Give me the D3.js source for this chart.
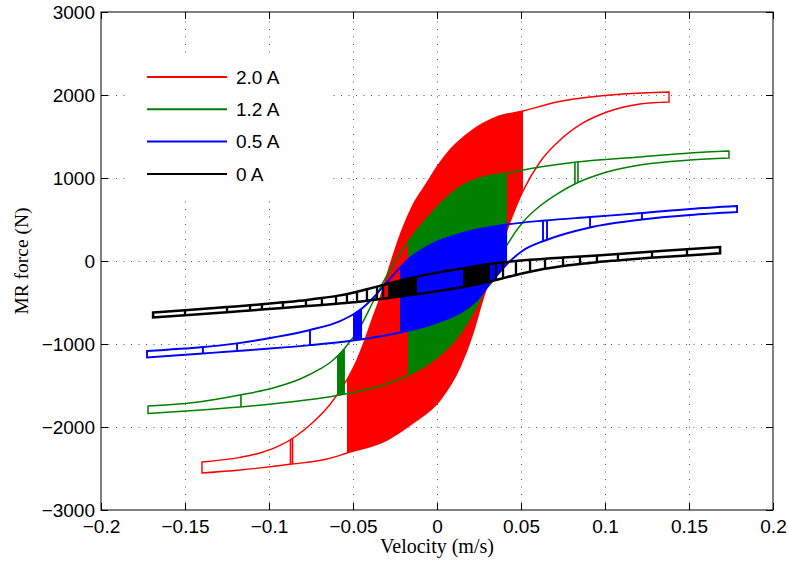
<!DOCTYPE html>
<html>
<head>
<meta charset="utf-8">
<script src="https://cdn.jsdelivr.net/npm/d3@7/dist/d3.min.js"></script>
<style>
  html, body { margin: 0; padding: 0; background: #fff; }
  svg { display: block; }
  .tick text { font-family: "Liberation Sans", Arial, Helvetica, sans-serif; font-size: 19px; fill: #000; }
</style>
</head>
<body>
<svg id="chart" width="788" height="562"></svg>
<script>
// ---- data: MR damper force vs. velocity hysteresis at four coil currents ----
const currents = ["2.0 A", "1.2 A", "0.5 A", "0 A"];

// branches as [velocity (m/s), force (N)], left tip -> right tip
const upper20 = [[-0.1399,-2422],[-0.1173,-2366],[-0.1054,-2313],[-0.0935,-2222],[-0.0845,-2117],[-0.0738,-1943],
  [-0.0637,-1729],[-0.0536,-1430],[-0.0476,-1193],[-0.0429,-952],[-0.0387,-711],[-0.0339,-446],[-0.0292,-133],
  [-0.0250,133],[-0.0208,373],[-0.0143,675],[-0.0060,940],[0.0000,1133],[0.0077,1337],[0.0196,1554],[0.0357,1735],
  [0.0512,1807],[0.0714,1916],[0.0911,1976],[0.1107,2012],[0.1381,2036]];
const lower20 = [[-0.1399,-2554],[-0.1173,-2518],[-0.0863,-2446],[-0.0655,-2386],[-0.0536,-2313],[-0.0298,-2157],
  [-0.0143,-1952],[0.0018,-1675],[0.0137,-1277],[0.0214,-867],[0.0268,-494],[0.0327,-133],[0.0387,205],
  [0.0446,530],[0.0512,843],[0.0613,1193],[0.0714,1422],[0.0869,1663],[0.1012,1795],[0.1208,1892],[0.1381,1916]];

const upper12 = [[-0.1720,-1747],[-0.1470,-1711],[-0.1173,-1614],[-0.0976,-1530],[-0.0815,-1422],[-0.0696,-1301],
  [-0.0625,-1205],[-0.0548,-1048],[-0.0458,-795],[-0.0381,-494],[-0.0304,-193],[-0.0238,36],[-0.0173,229],
  [-0.0119,373],[-0.0042,554],[0.0018,687],[0.0119,867],[0.0256,1000],[0.0417,1060],[0.0613,1133],
  [0.0833,1193],[0.1208,1253],[0.1506,1301],[0.1738,1325]];
const lower12 = [[-0.1720,-1837],[-0.1470,-1805],[-0.1173,-1759],[-0.0875,-1699],[-0.0595,-1620],[-0.0339,-1506],
  [-0.0179,-1386],[0.0000,-1163],[0.0137,-880],[0.0238,-542],[0.0298,-289],[0.0357,-36],[0.0417,193],
  [0.0512,470],[0.0613,663],[0.0714,807],[0.0833,940],[0.1012,1072],[0.1208,1157],[0.1506,1217],[0.1738,1241]];

const upper05 = [[-0.1726,-1084],[-0.1393,-1036],[-0.1190,-992],[-0.0976,-922],[-0.0756,-831],[-0.0577,-723],
  [-0.0500,-645],[-0.0440,-560],[-0.0381,-446],[-0.0292,-241],[-0.0238,-120],[-0.0161,36],[-0.0042,193],
  [0.0155,337],[0.0417,440],[0.0643,488],[0.0911,530],[0.1220,578],[0.1506,627],[0.1786,663]];
const lower05 = [[-0.1726,-1163],[-0.1393,-1114],[-0.1190,-1084],[-0.0976,-1052],[-0.0756,-1014],[-0.0500,-958],
  [-0.0220,-861],[0.0000,-741],[0.0155,-602],[0.0238,-470],[0.0315,-277],[0.0417,-36],[0.0512,127],
  [0.0643,247],[0.0911,404],[0.1220,500],[0.1506,554],[0.1786,590]];

const upper00 = [[-0.1690,-620],[-0.1500,-594],[-0.1250,-555],[-0.1113,-534],[-0.0917,-498],[-0.0774,-469],
  [-0.0685,-447],[-0.0595,-420],[-0.0500,-382],[-0.0411,-337],[-0.0321,-289],[-0.0143,-199],[0.0018,-134],
  [0.0155,-87],[0.0357,-25],[0.0554,14],[0.0750,42],[0.0952,66],[0.1268,111],[0.1488,141],[0.1685,169]];
const lower00 = [[-0.1690,-681],[-0.1500,-653],[-0.1250,-617],[-0.1113,-596],[-0.0917,-566],[-0.0774,-543],
  [-0.0595,-514],[-0.0500,-498],[-0.0411,-477],[-0.0321,-454],[-0.0143,-404],[0.0018,-358],[0.0155,-313],
  [0.0315,-248],[0.0393,-207],[0.0476,-165],[0.0554,-130],[0.0643,-94],[0.0750,-61],[0.0851,-37],[0.0952,-14],
  [0.1071,7],[0.1268,39],[0.1488,67],[0.1685,92]];

// velocity bands densely swept by the response (appear solid)
const bands20 = [[-0.0536, 0.0512]];
const bands12 = [[-0.0595, -0.0548], [-0.0173, 0.0417]];
const bands05 = [[-0.0500, -0.0446], [-0.0220, 0.0417]];
const bands00 = [[-0.0292, -0.0119], [0.0155, 0.0315]];

// velocities of the isolated reversal strokes between branches
const strokes20 = [-0.0872, -0.0860];
const strokes12 = [-0.1167, 0.0821, 0.0839];
const strokes05 = [-0.1393, -0.1190, -0.0756, 0.0631, 0.0655, 0.0911, 0.1220];
const strokes00 = [-0.1500, -0.1250, -0.1113, -0.1042, -0.0917, -0.0780, -0.0685, -0.0601, -0.0536, -0.0476,
  -0.0417, -0.0357, -0.0321, 0.0351, 0.0393, 0.0470, 0.0554, 0.0643, 0.0750, 0.0851, 0.0952, 0.1077, 0.1280, 0.1488];

const xTicks = [-0.2, -0.15, -0.1, -0.05, 0, 0.05, 0.1, 0.15, 0.2];
const yTicks = [-3000, -2000, -1000, 0, 1000, 2000, 3000];

// ---- styling ----
const colors = ["#ff0000", "#008000", "#0000ff", "#000000"];
const lineWidths = [1.4, 1.5, 1.9, 2.5];
const strokeWidths = [1.6, 1.6, 1.9, 2.3];

const series = currents.map((label, i) => ({
  label,
  color: colors[i],
  lw: lineWidths[i],
  sw: strokeWidths[i],
  upper: [upper20, upper12, upper05, upper00][i],
  lower: [lower20, lower12, lower05, lower00][i],
  bands: [bands20, bands12, bands05, bands00][i],
  strokes: [strokes20, strokes12, strokes05, strokes00][i]
}));

const svg = d3.select("#chart");
const x = d3.scaleLinear().domain([-0.2, 0.2]).range([101, 773]);
const y = d3.scaleLinear().domain([-3000, 3000]).range([510, 12]);
const [x0, x1] = x.range();
const [y0, y1] = y.range();

svg.append("rect").attr("width", 788).attr("height", 562).attr("fill", "#fff");

// dotted grid
const grid = svg.append("g").attr("stroke", "#555").attr("stroke-width", 1)
  .attr("stroke-dasharray", "1,6.5").attr("fill", "none");
grid.selectAll(".gx").data(xTicks.slice(1, -1)).join("line")
  .attr("x1", d => Math.round(x(d)) + 0.5).attr("x2", d => Math.round(x(d)) + 0.5)
  .attr("y1", y0).attr("y2", y1);
grid.selectAll(".gy").data(yTicks.slice(1, -1)).join("line")
  .attr("y1", d => Math.round(y(d)) + 0.5).attr("y2", d => Math.round(y(d)) + 0.5)
  .attr("x1", x0).attr("x2", x1);

// hysteresis loops: upper branch forward, lower branch back, closed at the tips
const branch = d3.line().x(d => x(d[0])).y(d => y(d[1])).curve(d3.curveMonotoneX);
function loopPath(s) {
  const up = branch(s.upper);
  const lo = branch(s.lower.slice().reverse());
  return up + "L" + lo.slice(1) + "Z";
}

const defs = svg.append("defs");
series.forEach((s, i) => {
  defs.append("clipPath").attr("id", "loop" + i).append("path").attr("d", loopPath(s));
  const g = svg.append("g");
  const inside = g.append("g").attr("clip-path", `url(#loop${i})`).attr("fill", s.color);
  inside.selectAll(".band").data(s.bands).join("rect")
    .attr("x", d => x(d[0])).attr("width", d => x(d[1]) - x(d[0]))
    .attr("y", y1).attr("height", y0 - y1);
  inside.selectAll(".stroke").data(s.strokes).join("rect")
    .attr("x", d => x(d) - s.sw / 2).attr("width", s.sw)
    .attr("y", y1).attr("height", y0 - y1);
  g.append("path").attr("d", loopPath(s)).attr("fill", "none")
    .attr("stroke", s.color).attr("stroke-width", s.lw).attr("stroke-linejoin", "miter");
});

// axes box with inward ticks on all sides
const fmtX = d => d === 0 ? "0" : d3.format("~g")(d);
const fmtY = d3.format("d");
const gx = svg.append("g").attr("transform", `translate(0,${y0})`)
  .call(d3.axisBottom(x).tickValues(xTicks).tickFormat(fmtX).tickSizeInner(-7).tickSizeOuter(0).tickPadding(9.5));
const gy = svg.append("g").attr("transform", `translate(${x0},0)`)
  .call(d3.axisLeft(y).tickValues(yTicks).tickFormat(fmtY).tickSizeInner(-7).tickSizeOuter(0).tickPadding(6));
const gt = svg.append("g").attr("transform", `translate(0,${y1})`)
  .call(d3.axisTop(x).tickValues(xTicks).tickFormat("").tickSizeInner(-7).tickSizeOuter(0));
const gr = svg.append("g").attr("transform", `translate(${x1},0)`)
  .call(d3.axisRight(y).tickValues(yTicks).tickFormat("").tickSizeInner(-7).tickSizeOuter(0));
[gx, gy, gt, gr].forEach(g => {
  g.select(".domain").remove();
  g.selectAll(".tick line").attr("stroke", "#000");
});
svg.append("rect").attr("x", x0).attr("y", y1).attr("width", x1 - x0).attr("height", y0 - y1)
  .attr("fill", "none").attr("stroke", "#000").attr("stroke-width", 1);

// axis titles
svg.append("text").attr("x", (x0 + x1) / 2).attr("y", 553).attr("text-anchor", "middle")
  .style("font-family", '"Liberation Serif", "Times New Roman", serif').style("font-size", "20px")
  .text("Velocity (m/s)");
svg.append("text").attr("transform", `translate(28,${(y0 + y1) / 2}) rotate(-90)`).attr("text-anchor", "middle")
  .style("font-family", '"Liberation Serif", "Times New Roman", serif').style("font-size", "19.5px")
  .text("MR force (N)");

// legend
const legend = svg.append("g");
legend.append("rect").attr("x", 127).attr("y", 57).attr("width", 201).attr("height", 143).attr("fill", "#fff");
const rowY = i => 77 + i * 32.3;
legend.selectAll(".lg").data(series).join("line")
  .attr("x1", 147).attr("x2", 227).attr("y1", (d, i) => rowY(i)).attr("y2", (d, i) => rowY(i))
  .attr("stroke", d => d.color).attr("stroke-width", 2);
legend.selectAll(".lt").data(series).join("text")
  .attr("x", 236).attr("y", (d, i) => rowY(i)).attr("dy", "0.35em")
  .style("font-family", '"Liberation Sans", Arial, Helvetica, sans-serif').style("font-size", "19px")
  .text(d => d.label);
</script>
</body>
</html>
